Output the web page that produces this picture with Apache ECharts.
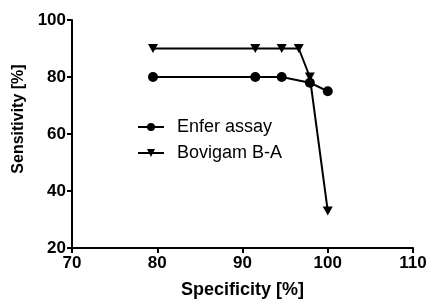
<!DOCTYPE html>
<html>
<head>
<meta charset="utf-8">
<script src="https://cdn.jsdelivr.net/npm/echarts@6/dist/echarts.min.js"></script>
<style>
 html, body { margin: 0; padding: 0; background: #fff; }
 #chart1 { width: 429px; height: 301px; }
</style>
</head>
<body>
<div id="chart1"></div>
<script>
var enferX = [79.5, 91.5, 94.6, 97.9, 100];
var enferY = [80, 80, 80, 78, 75];
var bovigamX = [79.5, 91.5, 94.6, 96.6, 97.9, 100];
var bovigamY = [90, 90, 90, 90, 80, 33];
var seriesNames = ['Enfer assay', 'Bovigam B-A'];

function pairs(xs, ys) {
 return xs.map(function (x, i) { return [x, ys[i]]; });
}

var dom = document.getElementById("chart1");
var myChart = echarts.init(dom);
var font = 'Liberation Sans, Arial, sans-serif';

var option = {
 animation: false,
 textStyle: { fontFamily: font },
 legend: {
  data: seriesNames,
  orient: 'vertical',
  left: 137,
  top: 118,
  padding: 0,
  itemWidth: 26,
  itemHeight: 10,
  itemGap: 8,
  textStyle: { fontSize: 18, color: '#000', fontFamily: font, padding: [0, 0, 0, 8] }
 },
 grid: {
  left: 72,
  right: 16,
  top: 20,
  bottom: 53,
  containLabel: false,
  outerBoundsMode: 'none'
 },
 xAxis: {
  type: 'value',
  min: 70,
  max: 110,
  interval: 10,
  name: 'Specificity [%]',
  nameLocation: 'middle',
  nameGap: 33,
  nameTextStyle: { fontSize: 18, fontWeight: 'bold', color: '#000' },
  axisLine: { lineStyle: { color: '#000', width: 2 } },
  axisTick: { length: 5, lineStyle: { color: '#000', width: 2 } },
  axisLabel: { fontSize: 17, fontWeight: 'bold', color: '#000', margin: 7 },
  splitLine: { show: false }
 },
 yAxis: {
  type: 'value',
  min: 20,
  max: 100,
  interval: 20,
  name: 'Sensitivity [%]',
  nameLocation: 'middle',
  nameGap: 42,
  nameTextStyle: { fontSize: 16, fontWeight: 'bold', color: '#000', padding: [0, 0, 0, 30] },
  axisLine: { show: true, lineStyle: { color: '#000', width: 2 } },
  axisTick: { show: true, length: 5, lineStyle: { color: '#000', width: 2 } },
  axisLabel: { fontSize: 17, fontWeight: 'bold', color: '#000', margin: 6 },
  splitLine: { show: false }
 },
 series: [
  {
   name: seriesNames[0],
   type: 'line',
   data: pairs(enferX, enferY),
   symbol: 'circle',
   symbolSize: 10,
   itemStyle: { color: '#000' },
   lineStyle: { color: '#000', width: 2 }
  },
  {
   name: seriesNames[1],
   type: 'line',
   data: pairs(bovigamX, bovigamY),
   symbol: 'triangle',
   symbolRotate: 180,
   symbolSize: [10, 9],
   itemStyle: { color: '#000' },
   lineStyle: { color: '#000', width: 2 }
  }
 ]
};

myChart.setOption(option);
</script>
</body>
</html>
